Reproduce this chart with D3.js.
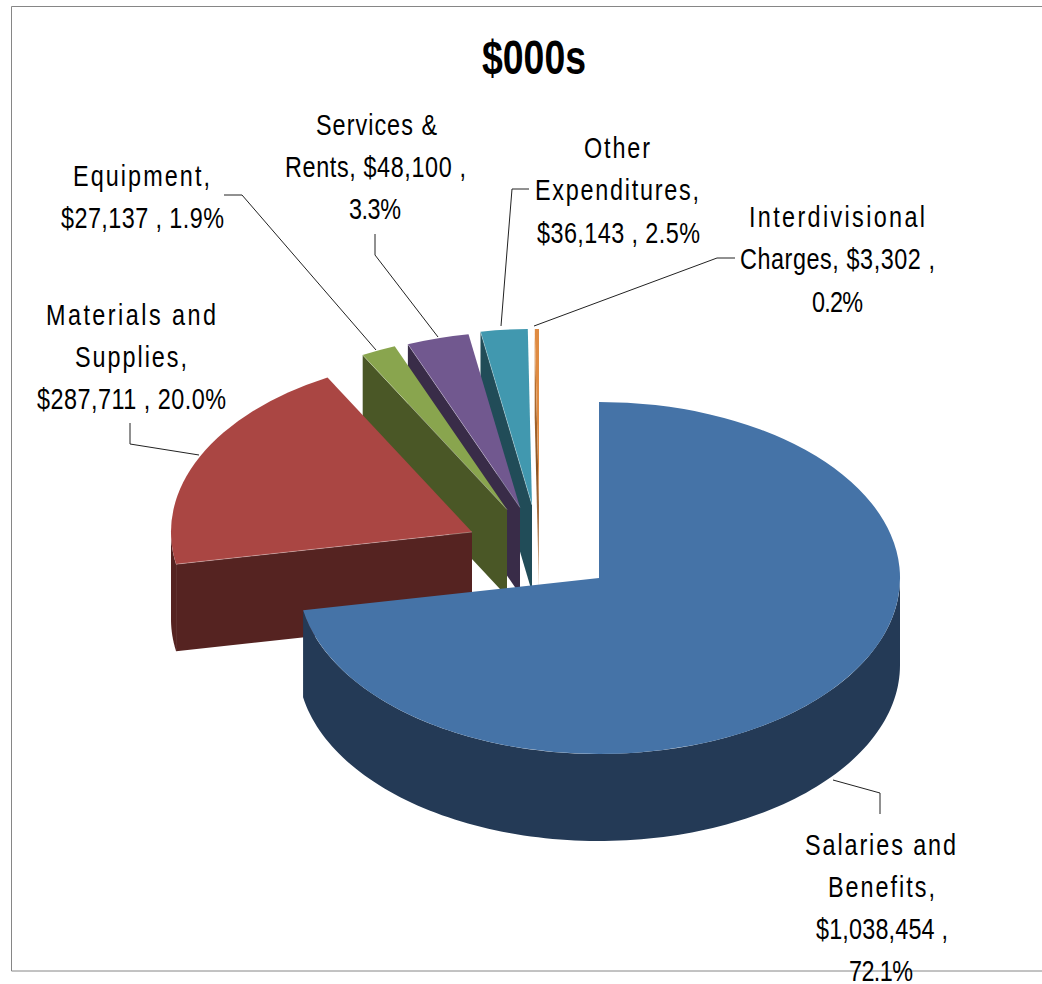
<!DOCTYPE html>
<html>
<head>
<meta charset="utf-8">
<title>$000s</title>
<script src="https://cdn.jsdelivr.net/npm/d3@7/dist/d3.min.js"></script>
<style>
  html, body { margin: 0; padding: 0; background: #fff; }
  svg { display: block; }
  text { font-family: "Liberation Sans", Arial, sans-serif; fill: #000; }
</style>
</head>
<body>
<svg id="chart" width="1042" height="984"></svg>
<script>
// Expenditure breakdown, in $000s
const categories = ["Salaries and Benefits", "Materials and Supplies", "Equipment",
                    "Services & Rents", "Other Expenditures", "Interdivisional Charges"];
const amounts = [1038454, 287711, 27137, 48100, 36143, 3302];
const topColors = ["#4573A7", "#AA4643", "#89A54E", "#71588F", "#4198AF", "#DF8B42"];
const wallColors = ["#243A56", "#552321", "#4A5726", "#392C48", "#214C58", "url(#thinWall)"];

// Label text, one entry per line
const labelLines = [
  ["Salaries and", "Benefits,", "$1,038,454 ,", "72.1%"],
  ["Materials and", "Supplies,", "$287,711 , 20.0%"],
  ["Equipment,", "$27,137 , 1.9%"],
  ["Services &", "Rents, $48,100 ,", "3.3%"],
  ["Other", "Expenditures,", "$36,143 , 2.5%"],
  ["Interdivisional", "Charges, $3,302 ,", "0.2%"]
];

// Label geometry: [left, right, baseline] for each line
const labelBoxes = [
  [[805, 956, 855], [828, 935, 897], [816, 948, 939], [849, 913, 981]],
  [[46, 216, 325], [75, 187, 367], [37, 226, 409]],
  [[73, 210, 186], [61, 224, 228]],
  [[316, 437, 135], [285, 466, 177], [349, 401, 219]],
  [[584, 650, 158], [535, 699, 200], [537, 700, 243]],
  [[749, 925, 227], [740, 935, 269], [812, 863, 312]]
];

// Leader lines running from each label to its slice
const leaders = [
  [[880, 814], [880, 793], [833, 780]],
  [[130, 423], [130, 444], [199, 455]],
  [[224, 195], [242, 195], [376, 350]],
  [[375, 234], [375, 255], [438, 337]],
  [[529, 189], [512, 189], [501, 326]],
  [[735, 258], [717, 258], [534, 326]]
];

// Pull-out of each slice from the pie centre, in pixels
const sliceOffsets = [[0, 0], [-127, -46], [-92, -68.5], [-79, -70.5], [-67, -73], [-60, -73]];

const centre = { x: 599, y: 578 };
const radiusX = 301, radiusY = 176, depth = 87;
const glyphSqueeze = 0.78;

const svg = d3.select("#chart");

// Shading for the sliver-thin cut face of the smallest slice
const thinWall = svg.append("defs").append("linearGradient")
  .attr("id", "thinWall")
  .attr("x1", 0).attr("y1", 0).attr("x2", 0).attr("y2", 1);
[[0, "#DF8B42"], [0.2, "#B56F30"], [0.53, "#8A5424"], [0.72, "#A87346"], [1, "#E3C9B0"]]
  .forEach(([offset, color]) => thinWall.append("stop").attr("offset", offset).attr("stop-color", color));

// Unit-circle to screen scales for the tilted pie
const sx = d3.scaleLinear().domain([-1, 1]).range([centre.x - radiusX, centre.x + radiusX]);
const sy = d3.scaleLinear().domain([-1, 1]).range([centre.y - radiusY, centre.y + radiusY]);

const slices = d3.pie().sort(null).value(d => d).startAngle(0).endAngle(2 * Math.PI)(amounts);
const rimPoint = (angle, off, drop) => [
  sx(Math.sin(angle)) + off[0],
  sy(-Math.cos(angle)) + off[1] + drop
];
const apexPoint = (off, drop) => [sx(0) + off[0], sy(0) + off[1] + drop];
const outline = d3.line();
const topArc = d3.arc().innerRadius(0).outerRadius(1);

// Chart frame: left, top and bottom rules only
svg.append("path")
  .attr("d", outline([[1042, 6.5], [11.5, 6.5], [11.5, 971], [1042, 971]]))
  .attr("fill", "none")
  .attr("stroke", "#868686")
  .attr("stroke-width", 1);

// Back slices are painted first so nearer ones overlap them
const paintOrder = d3.range(slices.length).slice(1).reverse().concat(0);

paintOrder.forEach(i => {
  const s = slices[i];
  const off = sliceOffsets[i];
  const g = svg.append("g").attr("class", "slice");

  // Radial cut face, on the slices whose start edge looks toward the viewer
  if (i > 0) {
    g.append("path")
      .attr("d", outline([
        apexPoint(off, 0), rimPoint(s.startAngle, off, 0),
        rimPoint(s.startAngle, off, depth), apexPoint(off, depth)
      ]) + "Z")
      .attr("fill", wallColors[i]);
  }

  // Outer rim: only the part of the arc on the front half is visible
  const rimFrom = Math.max(s.startAngle, Math.PI / 2);
  const rimTo = Math.min(s.endAngle, 1.5 * Math.PI);
  if (rimFrom < rimTo) {
    const steps = d3.range(0, 121).map(k => rimFrom + (rimTo - rimFrom) * k / 120);
    const upper = steps.map(a => rimPoint(a, off, 0));
    const lower = steps.map(a => rimPoint(a, off, depth)).reverse();
    g.append("path")
      .attr("d", outline(upper.concat(lower)) + "Z")
      .attr("fill", wallColors[i]);
  }

  // Top face: unit arc stretched into the tilted ellipse
  g.append("path")
    .attr("d", topArc(s))
    .attr("transform", `translate(${centre.x + off[0]},${centre.y + off[1]}) scale(${radiusX},${radiusY})`)
    .attr("fill", topColors[i]);

  // Pale highlight where the top meets the cut face
  if (i > 0 && i < slices.length - 1) {
    g.append("path")
      .attr("d", outline([apexPoint(off, 0), rimPoint(s.startAngle, off, 0)]))
      .attr("fill", "none")
      .attr("stroke", "#fff")
      .attr("stroke-opacity", 0.3)
      .attr("stroke-width", 1);
  }
});

// Leader lines
svg.append("g").selectAll("path")
  .data(leaders)
  .join("path")
  .attr("d", d => outline(d))
  .attr("fill", "none")
  .attr("stroke", "#222")
  .attr("stroke-width", 1);

// Data labels: narrowed glyphs, with letter spacing filling each line's width
labelLines.forEach((lines, i) => {
  const g = svg.append("g").attr("class", "label").attr("aria-label", categories[i]);
  lines.forEach((line, j) => {
    const [left, right, base] = labelBoxes[i][j];
    g.append("text")
      .attr("transform", `translate(${left},${base}) scale(${glyphSqueeze},1)`)
      .attr("font-size", 30)
      .attr("textLength", (right - left) / glyphSqueeze)
      .attr("lengthAdjust", "spacing")
      .text(line);
  });
});

// Title
svg.append("text")
  .attr("x", 482)
  .attr("y", 74)
  .attr("font-size", 48)
  .attr("font-weight", "bold")
  .attr("textLength", 104)
  .attr("lengthAdjust", "spacingAndGlyphs")
  .text("$000s");
</script>
</body>
</html>
